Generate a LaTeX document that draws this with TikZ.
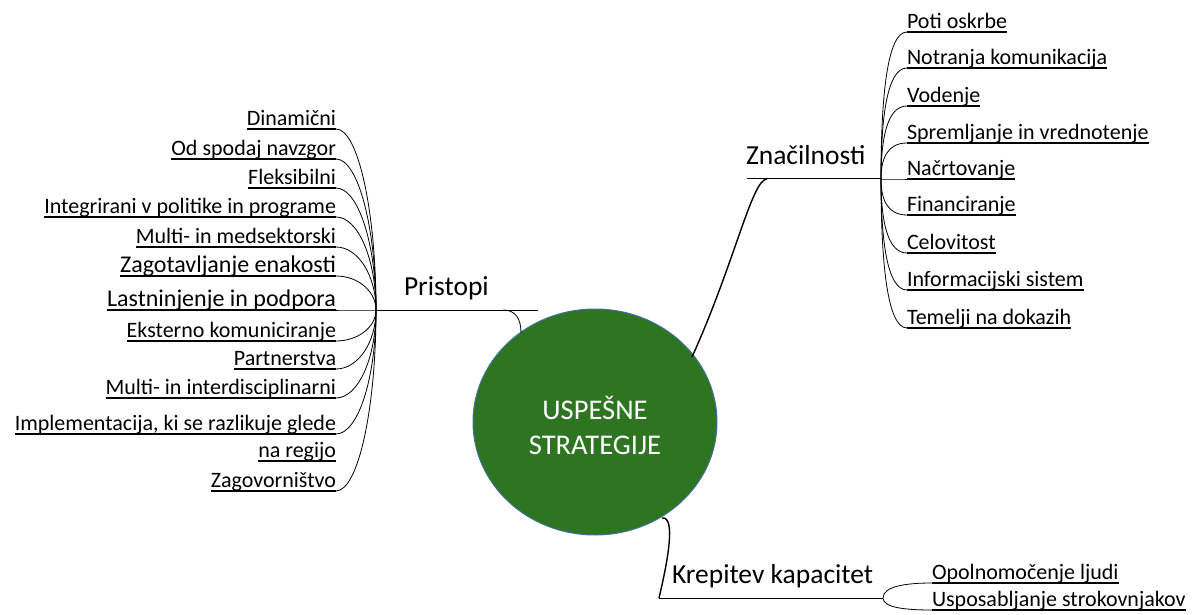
\documentclass[tikz,border=0pt]{standalone}
\usepackage{fontspec}
\setmainfont{Carlito}
\usetikzlibrary{shapes.geometric,calc}
\definecolor{cgreen}{RGB}{46,117,34}
\definecolor{cblue}{RGB}{65,113,156}
\tikzset{
  itemtxt/.style={inner sep=0pt, outer sep=0pt},
  uline/.style={line width=1.1pt},
  conn/.style={line width=0.8pt},
  branchline/.style={line width=1pt},
  mainconn/.style={line width=1.4pt},
}
\newcommand\litem[4]{%
  \node[itemtxt, font=\fontsize{#3}{#3}\selectfont, anchor=base east] (#1) at (336,#2-3.5) {#4};
  \coordinate (#1u) at ([yshift=-3.5pt]#1.base east);
  \draw[uline] ([yshift=-3.5pt]#1.base west) -- (#1u);
}
\newcommand\ritem[3]{%
  \node[itemtxt, font=\fontsize{22}{22}\selectfont, anchor=base west] (#1) at (907,#2-3.5) {#3};
  \coordinate (#1u) at ([yshift=-3.5pt]#1.base west);
  \draw[uline] (#1u) -- ([yshift=-3.5pt]#1.base east);
}
\begin{document}
\begin{tikzpicture}[x=1pt,y=-1pt]
\useasboundingbox (0,0) rectangle (1203,615);
% centre
\node[ellipse, draw=cblue, line width=1pt, fill=cgreen, minimum width=244pt, minimum height=226pt, inner sep=0pt] (c) at (595,422) {};
\node[text=white, align=center, font=\fontsize{28.5}{35}\selectfont] (ctext) at (595,425) {USPEŠNE\\STRATEGIJE};
% hubs and joints
\coordinate (hubP) at (376,310);
\coordinate (pEnd) at (538,310);
\coordinate (pJ) at (503,310);
\coordinate (cP) at (521,333);
\coordinate (hubZ) at (881,179);
\coordinate (zStart) at (747,179);
\coordinate (zJ) at (767,179);
\coordinate (cZ) at (692,357);
\coordinate (hubK) at (883,598);
\coordinate (kStart) at (659,598);
\coordinate (cK) at (662,518);
% branch labels
\node[itemtxt, font=\fontsize{27.5}{27.5}\selectfont, anchor=base west] (pristopi) at (404,295) {Pristopi};
\node[itemtxt, font=\fontsize{27.5}{27.5}\selectfont, anchor=base west] (znacilnosti) at (746,165) {Značilnosti};
\node[itemtxt, font=\fontsize{27.5}{27.5}\selectfont, anchor=base west] (krepitev) at (672,583) {Krepitev kapacitet};
% branch lines
\draw[branchline] (hubP) -- (pEnd);
\draw[branchline] (zStart) -- (hubZ);
\draw[branchline] (kStart) -- (hubK);
% main connectors
\draw[conn] (pJ) .. controls (515,310) and (521,318) .. (cP);
\draw[mainconn] (cZ) .. controls (735,262) and (752,179) .. (zJ);
\draw[mainconn] (cK) .. controls (676,516) and (668,560) .. (kStart);
% left items
\litem{l1}{129}{22}{Dinamični}
\litem{l2}{159}{22}{Od spodaj navzgor}
\litem{l3}{188}{22}{Fleksibilni}
\litem{l4}{217}{22}{Integrirani v politike in programe}
\litem{l5}{247}{22}{Multi- in medsektorski}
\litem{l6}{276}{24}{Zagotavljanje enakosti}
\litem{l7}{310}{24}{Lastninjenje in podpora}
\litem{l8}{341}{22}{Eksterno komuniciranje}
\litem{l9}{369}{22}{Partnerstva}
\litem{l10}{398}{22}{Multi- in interdisciplinarni}
\litem{l11}{434}{22}{Implementacija, ki se razlikuje glede}
\litem{l11b}{461}{22}{na regijo}
\litem{l12}{491}{22}{Zagovorništvo}
\foreach \n/\y in {l1/129,l2/159,l3/188,l4/217,l5/247,l6/276,l7/310,l8/341,l9/369,l10/398,l11/434,l12/491}{
  \draw[conn] (\n u) .. controls +(22,0) and +(0,{-(310-\y)*0.55}) .. (hubP);
}
% right items
\ritem{r1}{32}{Poti oskrbe}
\ritem{r2}{68}{Notranja komunikacija}
\ritem{r3}{106}{Vodenje}
\ritem{r4}{143}{Spremljanje in vrednotenje}
\ritem{r5}{179}{Načrtovanje}
\ritem{r6}{215}{Financiranje}
\ritem{r7}{253}{Celovitost}
\ritem{r8}{290}{Informacijski sistem}
\ritem{r9}{328}{Temelji na dokazih}
\foreach \n/\y in {r1/32,r2/68,r3/106,r4/143,r5/179,r6/215,r7/253,r8/290,r9/328}{
  \draw[conn] (hubZ) .. controls +(0,{-(179-\y)*0.55}) and +(-20,0) .. (\n u);
}
% krepitev items
\node[itemtxt, font=\fontsize{22}{22}\selectfont, anchor=base west] (k1) at (932,579.5) {Opolnomočenje ljudi};
\coordinate (k1u) at ([yshift=-3.5pt]k1.base west);
\draw[uline] (k1u) -- ([yshift=-3.5pt]k1.base east);
\node[itemtxt, font=\fontsize{22}{22}\selectfont, anchor=base west] (k2) at (932,606.5) {Usposabljanje strokovnjakov};
\coordinate (k2u) at ([yshift=-3.5pt]k2.base west);
\draw[uline] (k2u) -- ([yshift=-3.5pt]k2.base east);
\draw[conn] (hubK) .. controls +(0,-12) and +(-25,0) .. (k1u);
\draw[conn] (hubK) .. controls +(0,10) and +(-25,0) .. (k2u);
\end{tikzpicture}
\end{document}
